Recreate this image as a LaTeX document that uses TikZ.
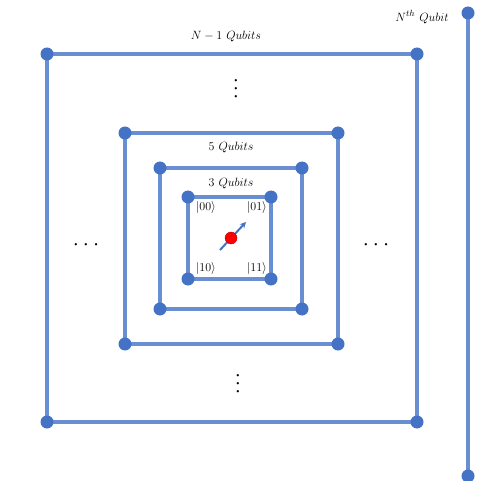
\documentclass[tikz,border=0pt]{standalone}
\usepackage{amsmath,amssymb}
\usetikzlibrary{arrows.meta,positioning,backgrounds}
\definecolor{wireblue}{HTML}{6A8ED2}
\definecolor{dotblue}{HTML}{4472C4}
\tikzset{
  qdot/.style={
    circle,
    fill=dotblue,
    inner sep=0pt,
    minimum size=13pt,
  },
  wire/.style={draw=wireblue, line width=3.3pt},
  spin/.style={-{Stealth[length=6pt, width=6pt]}, draw=dotblue, line width=2pt},
  lbl/.style={font=\fontsize{12.5}{14}\selectfont, inner sep=1pt},
  ket/.style={font=\fontsize{12}{14}\selectfont, inner sep=1pt},
  dots/.style={font=\fontsize{8}{8}\selectfont, inner sep=0pt, align=center},
}

\begin{document}
\begin{tikzpicture}[x=1pt, y=-1pt]
  \useasboundingbox (0,0) rectangle (495,481);

  % N-1 qubits
  \node[qdot] (a1) at (47,54) {};
  \node[qdot] (a2) at (417,54) {};
  \node[qdot] (a3) at (417,422) {};
  \node[qdot] (a4) at (47,422) {};
  % 5 qubits
  \node[qdot] (b1) at (125,133) {};
  \node[qdot] (b2) at (338,133) {};
  \node[qdot] (b3) at (338,344) {};
  \node[qdot] (b4) at (125,344) {};
  % 3 qubits
  \node[qdot] (c1) at (160,168) {};
  \node[qdot] (c2) at (302,168) {};
  \node[qdot] (c3) at (302,309) {};
  \node[qdot] (c4) at (160,309) {};
  % 2 qubits
  \node[qdot] (d1) at (188,197) {};
  \node[qdot] (d2) at (271,197) {};
  \node[qdot] (d3) at (271,279) {};
  \node[qdot] (d4) at (188,279) {};
  % Nth qubit
  \node[qdot] (n1) at (468,13) {};
  \node[qdot] (n2) at (468,476) {};

  \begin{scope}[on background layer]
    \draw[wire] (a1.center) -- (a2.center) -- (a3.center) -- (a4.center) -- cycle;
    \draw[wire] (b1.center) -- (b2.center) -- (b3.center) -- (b4.center) -- cycle;
    \draw[wire] (c1.center) -- (c2.center) -- (c3.center) -- (c4.center) -- cycle;
    \draw[wire] (d1.center) -- (d2.center) -- (d3.center) -- (d4.center) -- cycle;
    \draw[wire] (n1.center) -- (n2.center);
  \end{scope}

  \node[lbl] (nlab) at (226,37) {$N-1\ Qubits$};
  \node[lbl] (flab) at (422,17) {$N^{th}\ Qubit$};
  \node[lbl] (blab) at (231,148) {$5\ Qubits$};
  \node[lbl] (clab) at (231,183) {$3\ Qubits$};

  \node[ket] (k00) at (206,208) {$|00\rangle$};
  \node[ket] (k01) at (257,208) {$|01\rangle$};
  \node[ket] (k10) at (206,268) {$|10\rangle$};
  \node[ket] (k11) at (257,268) {$|11\rangle$};

  % spin
  \coordinate (tail) at (220,250);
  \coordinate (head) at (246,222);
  \draw[spin] (tail) -- (head);
  \node[circle, fill=red, draw=red!70!black, line width=0.4pt, inner sep=0pt, minimum size=12pt] (spin) at (231,238) {};

  \node[dots] (vtop) at (236,89) {\textbullet\\\textbullet\\\textbullet};
  \node[dots] (vbot) at (238,384) {\textbullet\\\textbullet\\\textbullet};
  \node[dots] (hleft) at (86,245) {\textbullet\hspace{3.5pt}\textbullet\hspace{3.5pt}\textbullet};
  \node[dots] (hright) at (376,245) {\textbullet\hspace{3.5pt}\textbullet\hspace{3.5pt}\textbullet};
\end{tikzpicture}
\end{document}
